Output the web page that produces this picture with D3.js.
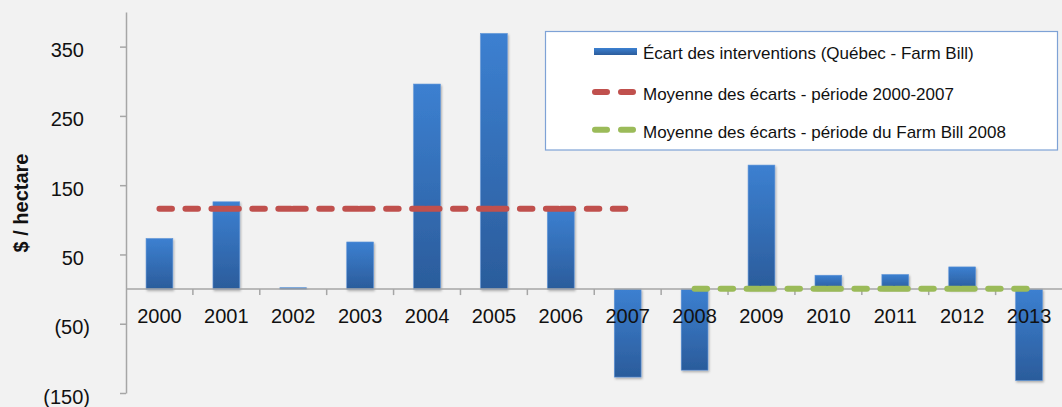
<!DOCTYPE html>
<html>
<head>
<meta charset="utf-8">
<script src="https://cdn.jsdelivr.net/npm/d3@7"></script>
<style>
  body { margin: 0; background: #f2f2f2; }
  svg { display: block; font-family: "Liberation Sans", Arial, sans-serif; }
</style>
</head>
<body>
<div id="chart"></div>
<script>
// data
const years = ["2000","2001","2002","2003","2004","2005","2006","2007","2008","2009","2010","2011","2012","2013"];
const ecart = [73, 126, 2, 68, 296, 369, 116, -127, -117, 179, 20, 21, 32, -132];
const meanYears1 = ["2000","2001","2002","2003","2004","2005","2006","2007"];
const mean1 = 116;
const meanYears2 = ["2008","2009","2010","2011","2012","2013"];
const mean2 = 0.5;
const yTicks = [-150, -50, 50, 150, 250, 350];
const legendLabels = [
  "Écart des interventions (Québec - Farm Bill)",
  "Moyenne des écarts - période 2000-2007",
  "Moyenne des écarts - période du Farm Bill 2008"
];

const width = 1062, height = 407;
const svg = d3.select("#chart").append("svg")
    .attr("width", width)
    .attr("height", height);

svg.append("rect").attr("width", width).attr("height", height).attr("fill", "#f2f2f2");

const defs = svg.append("defs");
const grad = defs.append("linearGradient")
    .attr("id", "barGrad")
    .attr("x1", 0).attr("y1", 0).attr("x2", 0).attr("y2", 1);
grad.append("stop").attr("offset", "0%").attr("stop-color", "#3c80d1");
grad.append("stop").attr("offset", "100%").attr("stop-color", "#2b5c9b");

const shadow = defs.append("filter").attr("id", "shadow")
    .attr("x", "-20%").attr("y", "-20%").attr("width", "140%").attr("height", "140%");
shadow.append("feDropShadow")
    .attr("dx", 1).attr("dy", 1.5).attr("stdDeviation", 1.2)
    .attr("flood-color", "#000").attr("flood-opacity", 0.3);

// scales
const x = d3.scaleBand()
    .domain(years)
    .range([126, 1062.5])
    .paddingInner(0.6)
    .paddingOuter(0.3);
const cx = d => x(d) + x.bandwidth() / 2;

const y = d3.scaleLinear()
    .domain([-150, 400])
    .range([393, 12]);

// bars
svg.append("g")
  .selectAll("rect")
  .data(years)
  .join("rect")
    .attr("x", d => x(d))
    .attr("y", (d, i) => y(Math.max(0, ecart[i])))
    .attr("width", x.bandwidth())
    .attr("height", (d, i) => Math.abs(y(ecart[i]) - y(0)))
    .attr("fill", "url(#barGrad)")
    .attr("stroke", "#5d93d8")
    .attr("stroke-width", 0.6)
    .attr("filter", "url(#shadow)");

// y axis
const yAxis = svg.append("g")
    .attr("transform", "translate(126,0)")
    .call(d3.axisLeft(y)
      .tickValues(yTicks)
      .tickSize(6)
      .tickSizeOuter(0)
      .tickFormat(d => d < 0 ? "(" + (-d) + ")" : d));
yAxis.select(".domain").attr("stroke", "#a6a6a6").attr("stroke-width", 1.5);
yAxis.selectAll(".tick line").attr("stroke", "#a6a6a6").attr("stroke-width", 1.5);
yAxis.selectAll(".tick text")
    .attr("font-size", 20)
    .attr("fill", "#111")
    .attr("x", d => d < 0 ? -36 : -42)
    .attr("dy", "0.5em");

// zero line + category ticks
svg.append("line")
    .attr("x1", 126).attr("x2", width)
    .attr("y1", y(0)).attr("y2", y(0))
    .attr("stroke", "#a6a6a6").attr("stroke-width", 1.5);
svg.append("g")
  .selectAll("line")
  .data(years.slice(1))
  .join("line")
    .attr("x1", d => x(d) - x.step() * x.paddingOuter())
    .attr("x2", d => x(d) - x.step() * x.paddingOuter())
    .attr("y1", y(0)).attr("y2", y(0) + 6)
    .attr("stroke", "#a6a6a6").attr("stroke-width", 1.5);

// mean lines, dashed one segment at a time
function meanLine(cats, value, color) {
  const pairs = d3.pairs(cats);
  svg.append("g")
    .selectAll("line")
    .data(pairs)
    .join("line")
      .attr("x1", d => cx(d[0]))
      .attr("x2", d => cx(d[1]))
      .attr("y1", y(value)).attr("y2", y(value))
      .attr("stroke", color)
      .attr("stroke-width", 6)
      .attr("stroke-linecap", "round")
      .attr("stroke-dasharray", "12.5,13.5");
}
meanLine(meanYears1, mean1, "#c0504d");
meanLine(meanYears2, mean2, "#9bbb59");

// category labels (on top of bars)
svg.append("g")
  .selectAll("text")
  .data(years)
  .join("text")
    .attr("x", d => cx(d))
    .attr("y", y(0) + 34)
    .attr("text-anchor", "middle")
    .attr("font-size", 20)
    .attr("fill", "#111")
    .text(d => d);

// y title
svg.append("text")
    .attr("transform", "translate(28,203) rotate(-90)")
    .attr("text-anchor", "middle")
    .attr("font-size", 20)
    .attr("font-weight", "bold")
    .attr("fill", "#111")
    .text("$ / hectare");

// legend
const legend = svg.append("g");
legend.append("rect")
    .attr("x", 545.5).attr("y", 31.5)
    .attr("width", 512).attr("height", 118.5)
    .attr("fill", "#fff")
    .attr("stroke", "#7ea2d6").attr("stroke-width", 1.2);

const rowBase = [59, 100, 137.7];
legend.append("rect")
    .attr("x", 594).attr("y", 48).attr("width", 43).attr("height", 7)
    .attr("fill", "url(#barGrad)");
[["#c0504d", 1], ["#9bbb59", 2]].forEach(([c, i]) => {
  legend.append("line")
      .attr("x1", 595).attr("x2", 637)
      .attr("y1", rowBase[i] - 8).attr("y2", rowBase[i] - 8)
      .attr("stroke", c).attr("stroke-width", 6)
      .attr("stroke-linecap", "round")
      .attr("stroke-dasharray", "12,14");
});
legend.selectAll("text.lab")
  .data(legendLabels)
  .join("text")
    .attr("class", "lab")
    .attr("x", 643)
    .attr("y", (d, i) => rowBase[i])
    .attr("font-size", 17)
    .attr("fill", "#111")
    .text(d => d);
</script>
</body>
</html>
